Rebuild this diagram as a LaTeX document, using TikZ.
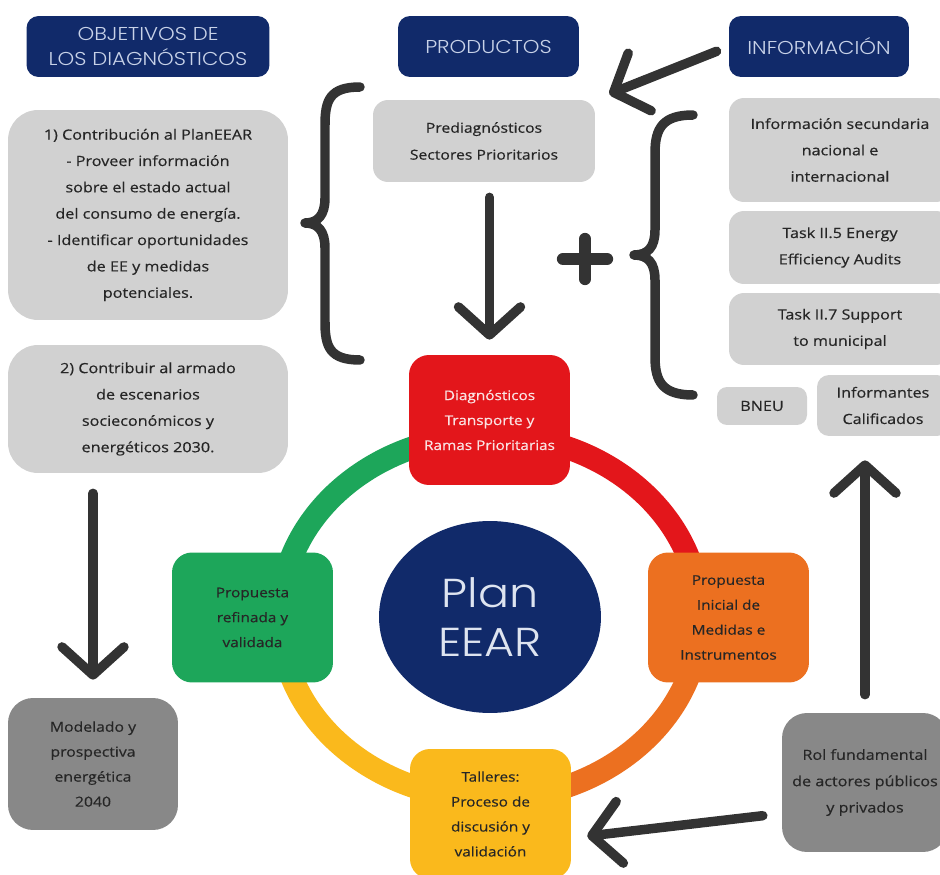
\documentclass[tikz,border=0pt]{standalone}
\usepackage{fontspec}
\setmainfont{Open Sans}[FakeStretch=1.15, FakeBold=0.4]
\newfontfamily\headfont{Poppins Light}[FakeStretch=1.14]
\usepackage{tikz}
\usetikzlibrary{arrows.meta, shapes.geometric}
\definecolor{navy}{RGB}{17,42,106}
\definecolor{headtext}{RGB}{200,210,232}
\definecolor{boxgray}{RGB}{209,209,209}
\definecolor{boxdark}{RGB}{136,136,136}
\definecolor{textdark}{RGB}{38,38,38}
\definecolor{arrowgray}{RGB}{51,51,51}
\definecolor{eearred}{RGB}{227,22,27}
\definecolor{eearorange}{RGB}{236,112,32}
\definecolor{eearyellow}{RGB}{250,185,28}
\definecolor{eeargreen}{RGB}{29,166,90}
\definecolor{redtext}{RGB}{250,226,226}
\definecolor{plantext}{RGB}{222,228,240}

\begin{document}
\begin{tikzpicture}[x=0.02cm, y=-0.02cm,
    header/.style={fill=navy, rounded corners=0.24cm, minimum height=1.22cm,
      inner sep=0pt, align=center, text=headtext,
      font=\headfont\fontsize{10.6}{13.8}\selectfont},
    graybox/.style={fill=boxgray, rounded corners=0.3cm, inner sep=0pt,
      align=center, text=textdark, font=\fontsize{8}{15}\selectfont},
    ringbox/.style={rounded corners=0.4cm, minimum width=3.22cm,
      minimum height=2.6cm, inner sep=0pt, align=center, text=textdark,
      font=\fontsize{7.6}{14.2}\selectfont},
    ringline/.style={line width=0.46cm},
    bigarrow/.style={draw=arrowgray, line width=5.4pt, line cap=round,
      -{Straight Barb[length=0.56cm, width=1.24cm, round]}},
    bracestroke/.style={draw=arrowgray, line width=5.4pt, line cap=round,
      line join=round}]
  \useasboundingbox (0,0) rectangle (940,875);
  \clip (0,0) rectangle (940,875);

  % headers
  \node[header, minimum width=4.86cm] (objetivos) at (148,46.5)
    {OBJETIVOS DE\\LOS DIAGNÓSTICOS};
  \node[header, minimum width=3.62cm] (productos) at (488.5,46.5) {PRODUCTOS};
  \node[header, minimum width=3.6cm] (informacion) at (819,46.5) {INFORMACIÓN};

  % left column
  \node[graybox, rounded corners=0.6cm, minimum width=5.6cm, minimum height=4.2cm]
    (contrib1) at (148,215)
    {1) Contribución al PlanEEAR\\- Proveer información\\sobre el estado actual\\
     del consumo de energía.\\- Identificar oportunidades\\de EE y medidas\\potenciales.};
  \node[graybox, rounded corners=0.6cm, minimum width=5.6cm, minimum height=2.56cm]
    (contrib2) at (148,409)
    {2) Contribuir al armado\\de escenarios\\socieconómicos y\\energéticos 2030.};
  \node[graybox, fill=boxdark, rounded corners=0.5cm, minimum width=3.4cm,
        minimum height=2.64cm, font=\fontsize{7.8}{14.2}\selectfont]
    (modelado) at (93,764) {Modelado y\\prospectiva\\energética\\2040};

  % products and information
  \node[graybox, minimum width=4.44cm, minimum height=1.64cm, font=\fontsize{7.8}{15.3}\selectfont]
    (prediag) at (484,141) {Prediagnósticos\\Sectores Prioritarios};
  \node[graybox, minimum width=4.44cm, minimum height=2.08cm] (infosec) at (840,150)
    {Información secundaria\\nacional e\\internacional};
  \node[graybox, minimum width=4.44cm, minimum height=1.46cm] (task25) at (840,247.5)
    {Task II.5 Energy\\Efficiency Audits};
  \node[graybox, minimum width=4.44cm, minimum height=1.44cm] (task27) at (840,329)
    {Task II.7 Support\\to municipal};
  \node[graybox, rounded corners=0.2cm, minimum width=1.8cm, minimum height=0.76cm]
    (bneu) at (762,406) {BNEU};
  \node[graybox, rounded corners=0.24cm, minimum width=2.64cm, minimum height=1.22cm]
    (informantes) at (883,405.5) {Informantes\\Calificados};
  \node[graybox, fill=boxdark, rounded corners=0.5cm, minimum width=3.32cm,
        minimum height=2.78cm] (rol) at (865,782.5)
    {Rol fundamental\\de actores públicos\\y privados};

  % braces and plus
  \draw[bracestroke] (360,87) .. controls (330,87) and (325,100) .. (325,125)
    -- (325,198) .. controls (325,215) and (318,223) .. (305,223)
    .. controls (318,223) and (325,231) .. (325,248)
    -- (325,322) .. controls (325,347) and (330,360) .. (360,360);
  \draw[bracestroke] (693,115) .. controls (663,115) and (655,128) .. (655,153)
    -- (655,230) .. controls (655,247) and (648,255) .. (634,255)
    .. controls (648,255) and (655,263) .. (655,280)
    -- (655,357) .. controls (655,382) and (663,395) .. (693,395);
  \draw[bracestroke, line width=7pt] (563,259) -- (607,259) (585,239) -- (585,279);

  % cycle
  \coordinate (ringc) at (490,617);
  \foreach \col/\sx/\sy in {eearred/1/-1, eearorange/1/1, eearyellow/-1/1, eeargreen/-1/-1} {
    \begin{scope}
      \clip (ringc) rectangle ++(\sx*300,\sy*300);
      \draw[ringline, draw=\col] (ringc) ellipse [x radius=4.2cm, y radius=3.64cm];
    \end{scope}
  }
  \node[ellipse, fill=navy, minimum width=4.44cm, minimum height=3.84cm, inner sep=0pt,
        text=plantext, align=center, font=\headfont\fontsize{23}{28}\selectfont]
    (plan) at (ringc) {Plan\\EEAR};
  \node[ringbox, fill=eearred, text=redtext] (diag) at (489.5,420)
    {Diagnósticos\\Transporte y\\Ramas Prioritarias};
  \node[ringbox, fill=eearorange] (propinicial) at (728.5,617.5)
    {Propuesta\\Inicial de\\Medidas e\\Instrumentos};
  \node[ringbox, fill=eearyellow] (talleres) at (490.5,814)
    {Talleres:\\Proceso de\\discusión y\\validación};
  \node[ringbox, fill=eeargreen] (refinada) at (252.5,617.5)
    {Propuesta\\refinada y\\validada};

  % arrows
  \draw[bigarrow, shorten <=0.4cm, shorten >=0.36cm] (modelado.north |- contrib2.south) -- (modelado.north);
  \draw[bigarrow, shorten <=0.3cm, shorten >=0.3cm] (diag.north |- prediag.south) -- (diag.north);
  \draw[bigarrow, shorten <=0.26cm, shorten >=0.3cm] (informacion.west) -- (prediag.north east);
  \draw[bigarrow, shorten <=0.36cm, shorten >=0.48cm] (rol.north) -- (rol.north |- informantes.south);
  \draw[bigarrow, shorten <=0.38cm, shorten >=0.32cm] ([yshift=-0.62cm]rol.west) -- ([yshift=-0.48cm]talleres.east);
\end{tikzpicture}
\end{document}
